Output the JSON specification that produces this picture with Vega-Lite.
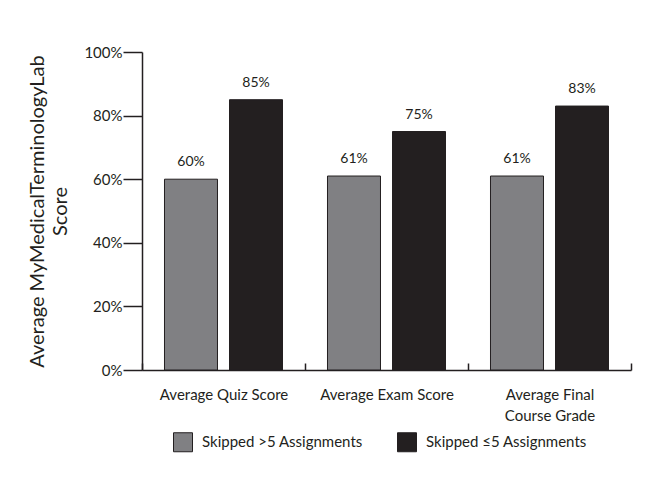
{
  "$schema": "https://vega.github.io/schema/vega-lite/v6.json",
  "autosize": {"type": "none"},
  "width": 489,
  "height": 318,
  "padding": {"left": 142, "top": 52, "right": 29, "bottom": 109},
  "background": "white",
  "data": {
    "values": [
      {"measure": "Average Quiz Score", "group": "Skipped >5 Assignments", "score": 0.60},
      {"measure": "Average Quiz Score", "group": "Skipped ≤5 Assignments", "score": 0.85},
      {"measure": "Average Exam Score", "group": "Skipped >5 Assignments", "score": 0.61},
      {"measure": "Average Exam Score", "group": "Skipped ≤5 Assignments", "score": 0.75},
      {"measure": "Average Final Course Grade", "group": "Skipped >5 Assignments", "score": 0.61},
      {"measure": "Average Final Course Grade", "group": "Skipped ≤5 Assignments", "score": 0.83}
    ]
  },
  "encoding": {
    "x": {
      "field": "measure",
      "type": "nominal",
      "sort": ["Average Quiz Score", "Average Exam Score", "Average Final Course Grade"],
      "scale": {"paddingInner": 0, "paddingOuter": 0},
      "axis": {
        "title": null,
        "labelAngle": 0,
        "tickBand": "extent",
        "tickSize": -7,
        "labelPadding": 24,
        "labelFont": "Lato",
        "labelFontSize": 15,
        "labelColor": "#231f20",
        "labelLineHeight": 21,
        "labelExpr": "datum.value == 'Average Final Course Grade' ? ['Average Final', 'Course Grade'] : datum.value",
        "domainColor": "#231f20",
        "domainWidth": 1.5,
        "tickColor": "#231f20",
        "tickWidth": 1.5
      }
    },
    "xOffset": {
      "field": "group",
      "type": "nominal",
      "sort": ["Skipped >5 Assignments", "Skipped ≤5 Assignments"],
      "scale": {"paddingInner": 0.185, "paddingOuter": 0.346}
    },
    "y": {
      "field": "score",
      "type": "quantitative",
      "scale": {"domain": [0, 1]},
      "axis": {
        "title": ["Average MyMedicalTerminologyLab", "Score"],
        "titleFont": "Lato",
        "titleFontSize": 20,
        "titleFontWeight": "normal",
        "titleColor": "#231f20",
        "titleLineHeight": 23,
        "titlePadding": 13,
        "values": [0, 0.2, 0.4, 0.6, 0.8, 1],
        "format": ".0%",
        "grid": false,
        "tickSize": 19,
        "labelPadding": 1,
        "labelFont": "Lato",
        "labelFontSize": 15,
        "labelColor": "#231f20",
        "domainColor": "#231f20",
        "domainWidth": 1.5,
        "tickColor": "#231f20",
        "tickWidth": 1.5
      }
    }
  },
  "layer": [
    {
      "mark": {"type": "bar", "stroke": "#231f20", "strokeWidth": 1},
      "encoding": {
        "color": {
          "field": "group",
          "type": "nominal",
          "sort": ["Skipped >5 Assignments", "Skipped ≤5 Assignments"],
          "scale": {"domain": ["Skipped >5 Assignments", "Skipped ≤5 Assignments"], "range": ["#808083", "#231f20"]},
          "legend": {
            "title": null,
            "orient": "none",
            "legendX": 31,
            "legendY": 380,
            "direction": "horizontal",
            "symbolType": "square",
            "symbolSize": 361,
            "symbolStrokeColor": "#231f20",
            "symbolStrokeWidth": 1,
            "labelFont": "Lato",
            "labelFontSize": 15,
            "labelColor": "#231f20",
            "labelLimit": 400,
            "labelOffset": 9,
            "columnPadding": 32
          }
        }
      }
    },
    {
      "mark": {"type": "text", "baseline": "alphabetic", "dy": -13, "font": "Lato", "fontSize": 14, "color": "#231f20"},
      "encoding": {
        "text": {"field": "score", "type": "quantitative", "format": ".0%"}
      }
    }
  ],
  "config": {
    "view": {"stroke": null},
    "axis": {"labelFont": "Lato"}
  }
}
